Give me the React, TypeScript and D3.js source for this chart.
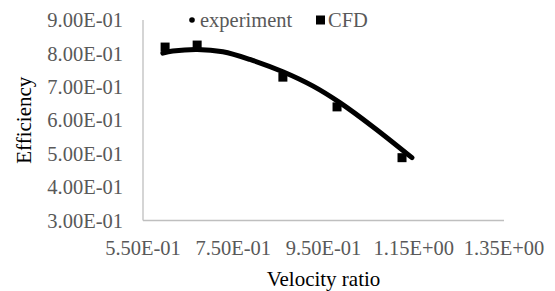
import React from "react";
import * as d3 from "d3";

const xTicks = [0.55, 0.75, 0.95, 1.15, 1.35];
const xTickLabels = ["5.50E-01", "7.50E-01", "9.50E-01", "1.15E+00", "1.35E+00"];
const yTicks = [0.3, 0.4, 0.5, 0.6, 0.7, 0.8, 0.9];
const yTickLabels = ["3.00E-01", "4.00E-01", "5.00E-01", "6.00E-01", "7.00E-01", "8.00E-01", "9.00E-01"];

const expX = [0.594, 0.616, 0.67, 0.727, 0.787, 0.86, 0.927, 0.987, 1.06, 1.146];
const expY = [0.801, 0.807, 0.812, 0.805, 0.782, 0.745, 0.702, 0.652, 0.58, 0.488];

const cfdX = [0.599, 0.67, 0.86, 0.98, 1.124];
const cfdY = [0.819, 0.825, 0.729, 0.64, 0.488];

const W = 555;
const H = 291;
const FONT = "Liberation Serif, Tinos, Times New Roman, DejaVu Serif, serif";
const GREY = "#595959";
const FS = 20.5;

export default function App() {
  const x = d3.scaleLinear().domain([0.55, 1.35]).range([143, 504]);
  const y = d3.scaleLinear().domain([0.3, 0.9]).range([220.5, 20]);
  const line = d3
    .line<number>()
    .x((d, i) => x(expX[i]))
    .y((d, i) => y(expY[i]))
    .curve(d3.curveCatmullRom.alpha(0.5));
  const ms = 9;
  const ts = { fontFamily: FONT };
  return (
    <svg
      width={W}
      height={H}
      style={{ position: "absolute", left: 0, top: 0, background: "#fff", fontFamily: FONT }}
    >
      <rect width={W} height={H} fill="#fff" />
      <line x1={x(0.55)} x2={x(0.55)} y1={y(0.3)} y2={y(0.9)} stroke="#bfbfbf" strokeWidth={1.3} />
      <line x1={x(0.55)} x2={x(1.35)} y1={y(0.3)} y2={y(0.3)} stroke="#bfbfbf" strokeWidth={1.3} />
      {yTicks.map((t, i) => (
        <text key={t} style={ts} x={123} y={y(t)} dy="0.35em" textAnchor="end" fontSize={FS} fill={GREY}>
          {yTickLabels[i]}
        </text>
      ))}
      {xTicks.map((t, i) => (
        <text key={t} style={ts} x={x(t)} y={248} dy="0.35em" textAnchor="middle" fontSize={FS} fill={GREY}>
          {xTickLabels[i]}
        </text>
      ))}
      <text style={ts} x={(x(0.55) + x(1.35)) / 2} y={279} dy="0.35em" textAnchor="middle" fontSize={21} fill="#000">
        Velocity ratio
      </text>
      <text
        style={ts}
        transform={`translate(24,${(y(0.3) + y(0.9)) / 2}) rotate(-90)`}
        dy="0.35em"
        textAnchor="middle"
        fontSize={21}
        fill="#000"
      >
        Efficiency
      </text>
      <path d={line(expX) || ""} fill="none" stroke="#000" strokeWidth={5} strokeLinecap="round" strokeLinejoin="round" />
      {cfdX.map((v, i) => (
        <rect key={i} x={x(v) - ms / 2} y={y(cfdY[i]) - ms / 2} width={ms} height={ms} fill="#000" />
      ))}
      <circle cx={192} cy={20} r={2.8} fill="#000" />
      <text style={ts} x={200} y={20} dy="0.35em" fontSize={FS} fill={GREY}>
        experiment
      </text>
      <rect x={316} y={15.5} width={9} height={9} fill="#000" />
      <text style={ts} x={328} y={20} dy="0.35em" fontSize={FS} fill={GREY}>
        CFD
      </text>
    </svg>
  );
}
